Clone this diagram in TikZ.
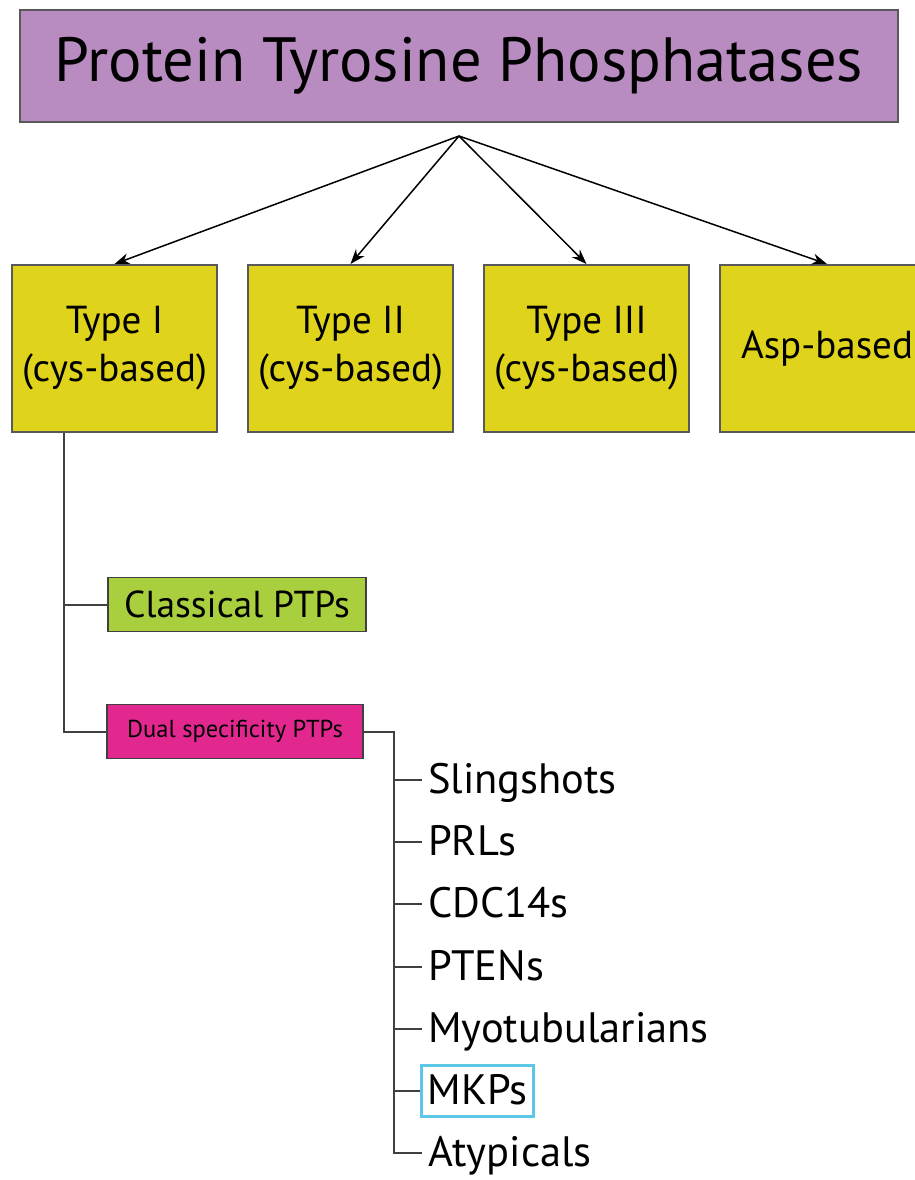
\documentclass[tikz,border=0pt]{standalone}
\usepackage{fontspec}
\setmainfont{PT Sans}
\usetikzlibrary{positioning,calc,arrows.meta}

\definecolor{ptpviolet}{HTML}{B98CC1}
\definecolor{ptpyellow}{HTML}{E0D31B}
\definecolor{ptpgreen}{HTML}{A9CF3F}
\definecolor{ptpmagenta}{HTML}{E2288F}
\definecolor{ptpcyan}{HTML}{5CC7E7}

\begin{document}
\begin{tikzpicture}[x=1pt, y=-1pt,
		title/.style={rectangle, draw=black!65, line width=2pt, fill=ptpviolet, minimum width=878pt, minimum height=112pt, font=\fontsize{62.5}{72}\selectfont},
		family/.style={rectangle, draw=black!65, line width=2pt, fill=ptpyellow, minimum width=205pt, minimum height=167pt, align=center, font=\fontsize{39}{48}\selectfont},
		sub/.style={rectangle, draw=black!75, line width=1.5pt, minimum height=54pt},
		item/.style={anchor=west, inner xsep=6pt, inner ysep=8pt, text height=31pt, text depth=4pt, font=\fontsize{42.5}{50}\selectfont},
		tree/.style={draw=black!75, line width=2pt},
		link/.style={line width=1.5pt, -{Stealth[length=15pt, width=11pt]}}
	]
	\useasboundingbox (0,0) rectangle (914,1180);
	\node[title] (ptp) at (459,66) {Protein Tyrosine Phosphatases};
	\coordinate (hub) at ([yshift=-13pt]ptp.south);

	\node[family] (typeone) at (114.5,348.5) {Type I\\(cys-based)};
	\node[family] (typetwo) [right=29pt of typeone] {Type II\\(cys-based)};
	\node[family] (typethree) [right=29pt of typetwo] {Type III\\(cys-based)};
	\node[family, minimum width=214pt] (asp) [right=29pt of typethree] {Asp-based};

	\draw[link] (hub) -- (typeone.north);
	\draw[link] (hub) -- (typetwo.north);
	\draw[link] (hub) -- (typethree.north);
	\draw[link] (hub) -- (asp.north);

	\node[sub, fill=ptpgreen, minimum width=258pt, font=\fontsize{37.5}{42}\selectfont] (classical) at (237,604.5) {Classical PTPs};
	\node[sub, fill=ptpmagenta, minimum width=256pt, font=\fontsize{24.5}{30}\selectfont] (dual) at (235,731.5) {Dual specificity PTPs};

	\coordinate (trunk) at ($(typeone.south west)+(53,0)$);
	\draw[tree] (trunk) |- (dual.west);
	\draw[tree] (trunk |- classical.west) -- (classical.west);

	% dual specificity families
	\node[item] (sling) at (422,780) {Slingshots};
	\node[item] (prl) at (422,842.2) {PRLs};
	\node[item] (cdc) at (422,904.4) {CDC14s};
	\node[item] (pten) at (422,966.6) {PTENs};
	\node[item] (myotub) at (422,1028.8) {Myotubularians};
	\node[item, draw=ptpcyan, line width=3pt] (mkp) at (420,1091) {MKPs};
	\node[item] (atyp) at (422,1153.2) {Atypicals};

	\coordinate (spine) at ($(dual.east)+(30,0)$);
	\draw[tree] (dual.east) -- (spine) |- (atyp.west);
	\draw[tree] (spine |- sling.west) -- (sling.west);
	\draw[tree] (spine |- prl.west) -- (prl.west);
	\draw[tree] (spine |- cdc.west) -- (cdc.west);
	\draw[tree] (spine |- pten.west) -- (pten.west);
	\draw[tree] (spine |- myotub.west) -- (myotub.west);
	\draw[tree] (spine |- mkp.west) -- (mkp.west);
\end{tikzpicture}
\end{document}
